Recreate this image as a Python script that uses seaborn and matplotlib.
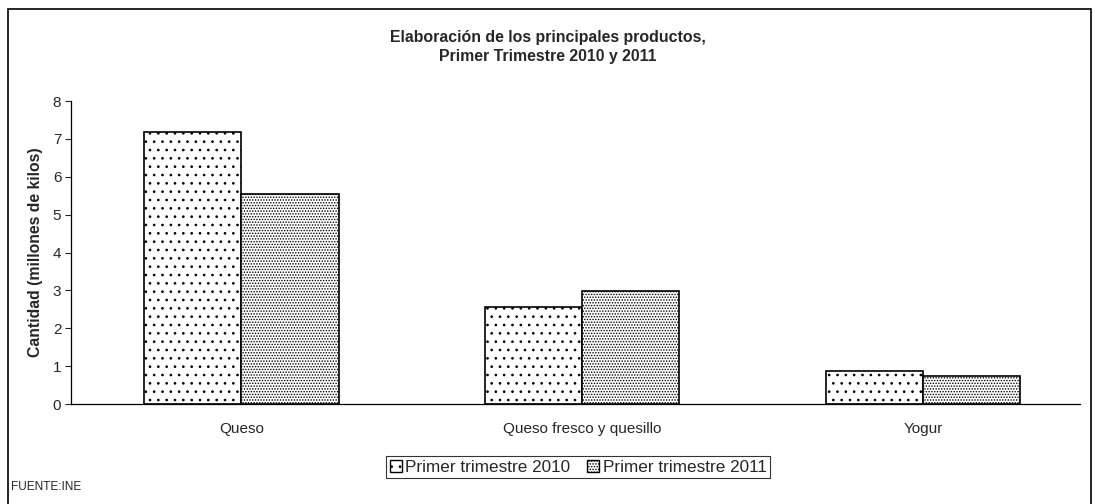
"""
Elaboración de los principales productos, primer trimestre 2010 y 2011.
"""
import matplotlib
matplotlib.use("Agg")
import matplotlib.pyplot as plt
import matplotlib.patches as mpatches
import seaborn as sns
import pandas as pd

categories = ["Queso", "Queso fresco y quesillo", "Yogur"]
series_names = ["Primer trimestre 2010", "Primer trimestre 2011"]
values_2010 = [7.18, 2.55, 0.87]
values_2011 = [5.55, 2.98, 0.75]
y_ticks = [0, 1, 2, 3, 4, 5, 6, 7, 8]

df = pd.DataFrame({
    "producto": categories * 2,
    "serie": [series_names[0]] * 3 + [series_names[1]] * 3,
    "cantidad": values_2010 + values_2011,
})

sns.set_theme(style="white")
plt.rcParams["font.family"] = ["Liberation Sans", "DejaVu Sans"]
plt.rcParams["hatch.linewidth"] = 0.7

fig = plt.figure(figsize=(10.95, 5.04), dpi=100)
ax = fig.add_axes([71 / 1095, 1 - 404 / 504, (1080 - 71) / 1095, (404 - 101) / 504])

sns.barplot(data=df, x="producto", y="cantidad", hue="serie", ax=ax,
            palette=["white", "white"], edgecolor="black", linewidth=1.2,
            width=0.57, saturation=1, legend=False)

hatches = ["..", "......"]
n = len(categories)
for i, bar in enumerate(ax.patches[:2 * n]):
    bar.set_hatch(hatches[i // n])
    bar.set_edgecolor("black")

ax.set_xlim(-0.5, 2.46)
ax.set_ylim(0, 8)
ax.set_yticks(y_ticks)
ax.tick_params(axis="y", left=True, length=4, width=0.8, labelsize=11, pad=3)
ax.tick_params(axis="x", bottom=False, labelsize=11, pad=7)
ax.set_xlabel("")
ax.set_ylabel("Cantidad (millones de kilos)", fontsize=11.3, fontweight="bold", labelpad=7)
for side in ["top", "right"]:
    ax.spines[side].set_visible(False)
for side in ["left", "bottom"]:
    ax.spines[side].set_color("black")
    ax.spines[side].set_linewidth(0.9)

fig.text(0.5, 1 - 47 / 504, "Elaboración de los principales productos,\nPrimer Trimestre 2010 y 2011",
         ha="center", va="center", fontsize=11.4, fontweight="bold", linespacing=1.3)

handles = [mpatches.Patch(facecolor="white", edgecolor="black", hatch=h, label=s)
           for h, s in zip(hatches, series_names)]
leg = fig.legend(handles=handles, loc="center", bbox_to_anchor=(578 / 1095, 1 - 467 / 504),
                 ncol=2, frameon=True, fancybox=False, fontsize=12.3, handlelength=0.7,
                 handleheight=0.7, handletextpad=0.2, columnspacing=1.0, borderpad=0.2,
                 borderaxespad=0)
leg.get_frame().set_edgecolor("black")
leg.get_frame().set_linewidth(0.8)

# outer chart frame, as in the spreadsheet export
fig.patches.append(mpatches.Rectangle((8 / 1095, -0.05), (1091 - 8) / 1095, 1 - 9 / 504 + 0.05,
                                      transform=fig.transFigure, fill=False,
                                      edgecolor="black", linewidth=1.2))

fig.text(11 / 1095, 1 - 487 / 504, "FUENTE:INE", ha="left", va="center", fontsize=8.5)

fig.savefig("out.png", dpi=100)
